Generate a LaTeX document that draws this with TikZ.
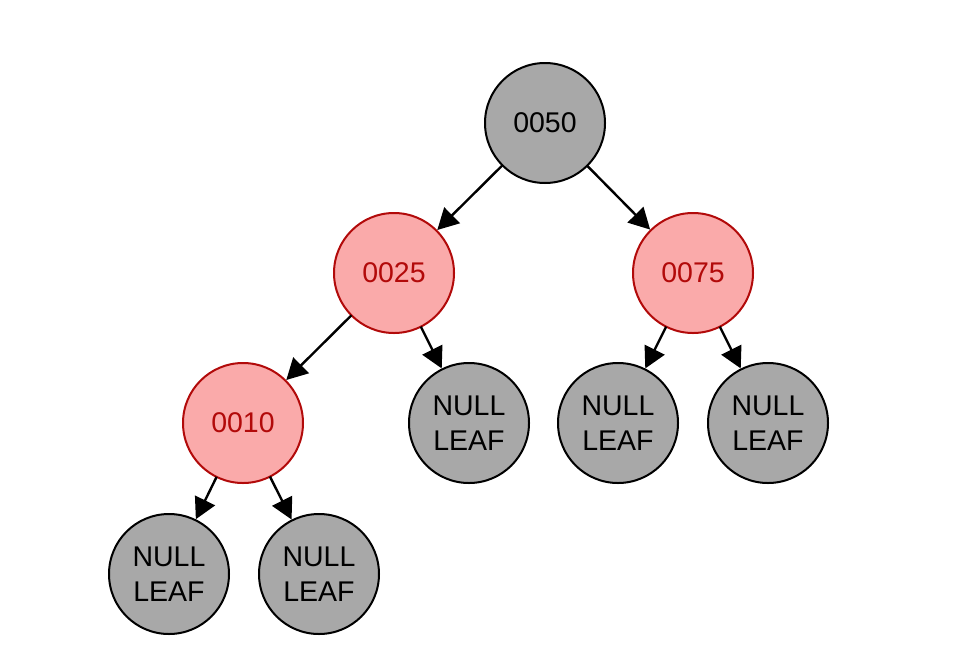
\documentclass[tikz,border=0pt]{standalone}
\usepackage{fontspec}
\setmainfont{Liberation Sans}
\usetikzlibrary{arrows.meta}
\definecolor{nodegray}{RGB}{168,168,168}
\definecolor{nodepink}{RGB}{250,170,170}
\definecolor{darkred}{RGB}{178,10,10}
\tikzset{
  blacknode/.style={circle, draw=black, fill=nodegray, line width=2pt, minimum size=120pt, inner sep=0pt, font=\fontsize{28.5}{35}\selectfont, text=black, align=center},
  rednode/.style={circle, draw=darkred, fill=nodepink, line width=2pt, minimum size=120pt, inner sep=0pt, font=\fontsize{28.5}{35}\selectfont, text=darkred, align=center},
  edge/.style={line width=2.4pt, -{Triangle[length=21pt,width=22pt]}, shorten <=-1pt}
}
\begin{document}
\begin{tikzpicture}[x=1pt,y=-1pt]
\useasboundingbox (0,0) rectangle (974,662);
\node[blacknode] (n50) at (545,123) {0050};
\node[rednode] (n25) at (394,273) {0025};
\node[rednode] (n75) at (693,273) {0075};
\node[rednode] (n10) at (243,423) {0010};
\node[blacknode] (l1) at (469,423) {NULL\\LEAF};
\node[blacknode] (l2) at (618,423) {NULL\\LEAF};
\node[blacknode] (l3) at (768,423) {NULL\\LEAF};
\node[blacknode] (l4) at (169,574) {NULL\\LEAF};
\node[blacknode] (l5) at (319,574) {NULL\\LEAF};
\draw[edge] (n50) -- (n25);
\draw[edge] (n50) -- (n75);
\draw[edge] (n25) -- (n10);
\draw[edge] (n25) -- (l1);
\draw[edge] (n75) -- (l2);
\draw[edge] (n75) -- (l3);
\draw[edge] (n10) -- (l4);
\draw[edge] (n10) -- (l5);
\end{tikzpicture}
\end{document}
